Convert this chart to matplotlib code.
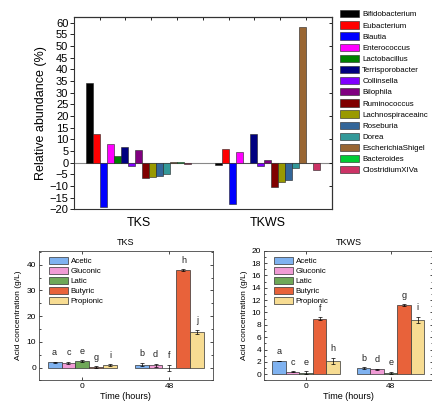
import numpy as np
import matplotlib
matplotlib.use("Agg")
import matplotlib.pyplot as plt
from matplotlib.ticker import MultipleLocator

plt.rcParams['font.family'] = ['Liberation Sans', 'DejaVu Sans']

# ---- top chart data: change in relative abundance (%) ----
groups = ['TKS', 'TKWS']
genera = ['Bifidobacterium', 'Eubacterium', 'Blautia', 'Enterococcus', 'Lactobacillus',
          'Terrisporobacter', 'Collinsella', 'Bilophila', 'Ruminococcus', 'Lachnospiraceainc',
          'Roseburia', 'Dorea', 'EscherichiaShigel', 'Bacteroides', 'ClostridiumXIVa']
genus_colors = ['#000000', '#ff0000', '#0000ff', '#ff00ff', '#008000',
                '#000080', '#8000ff', '#800080', '#800000', '#999900',
                '#336699', '#339999', '#996633', '#00cc33', '#cc3366']
tks_abund = [34, 12.3, -19, 8, 3, 6.7, -1.5, 5.2, -6.5, -6.2, -5.6, -5.0, 0.3, 0.3, -0.7]
tkws_abund = [-1.2, 6, -17.6, 4.5, 0, 12.4, -1.5, 1.3, -10.3, -8.2, -7.5, -2.4, 58, 0, -3]

# ---- bottom charts data: acid concentration (g/L) ----
times = ['0', '48']
acids = ['Acetic', 'Gluconic', 'Latic', 'Butyric', 'Propionic']
acid_colors = ['#7fb2f0', '#f09bd5', '#6fa858', '#e8623a', '#f7dc92']
tks_acid = {'0': [2.0, 1.9, 2.6, 0.2, 0.9], '48': [1.2, 0.9, 0.0, 38.0, 14.0]}
tks_err = {'0': [0.3, 0.4, 0.3, 0.3, 0.4], '48': [0.6, 0.5, 1.2, 0.3, 0.8]}
tks_letters = {'0': ['a', 'c', 'e', 'g', 'i'], '48': ['b', 'd', 'f', 'h', 'j']}
tkws_acid = {'0': [2.2, 0.4, 0.25, 9.0, 2.2], '48': [1.0, 0.8, 0.2, 11.2, 8.8]}
tkws_err = {'0': [0.0, 0.1, 0.2, 0.2, 0.5], '48': [0.1, 0.1, 0.2, 0.1, 0.5]}
tkws_letters = {'0': ['a', 'c', 'e', 'f', 'h'], '48': ['b', 'd', 'e', 'g', 'i']}

fig = plt.figure(figsize=(4.32, 4.03), dpi=100)

# ---------------- top chart ----------------
ax = fig.add_axes([0.171, 0.481, 0.597, 0.477])
n = len(genera)
w = 0.81 / n
x = np.arange(len(groups))
for i, g in enumerate(genera):
    vals = [tks_abund[i], tkws_abund[i]]
    ax.bar(x - 0.405 + w * (i + 0.5), vals, w, color=genus_colors[i],
           edgecolor='#222222', linewidth=0.4, label=g)
ax.axhline(0, color='#888888', linewidth=0.8, zorder=0)
ax.set_xlim(-0.5, 1.5)
ax.set_ylim(-20, 62.5)
ax.yaxis.set_major_locator(MultipleLocator(5))
ax.set_xticks(x)
ax.set_xticklabels(groups, fontsize=9)
ax.tick_params(axis='x', length=0, pad=6)
ax.tick_params(axis='y', labelsize=8, length=3, width=0.6, pad=1)
ax.set_ylabel('Relative abundance (%)', fontsize=9, labelpad=2)
for s in ax.spines.values():
    s.set_linewidth(0.8)
    s.set_color('#333333')
# origin-style inner ticks on top and right
ax_top = ax.secondary_xaxis('top')
ax_top.set_xticks(np.linspace(-0.5, 1.5, 11)[1:-1])
ax_top.tick_params(direction='in', length=2.5, width=0.6, labeltop=False)
ax_r = ax.secondary_yaxis('right')
ax_r.yaxis.set_major_locator(MultipleLocator(10))
ax_r.tick_params(direction='in', length=2.5, width=0.6, labelright=False)
leg = ax.legend(loc='upper left', bbox_to_anchor=(0.787, 0.975), bbox_transform=fig.transFigure,
                frameon=False, fontsize=5.7, handlelength=2.4, handleheight=1.05,
                labelspacing=0.35, handletextpad=0.4, borderaxespad=0, borderpad=0)


def acid_panel(rect, data, err, letters, ylim, major, minor, title):
    axb = fig.add_axes(rect)
    bw = 0.8 / len(acids)
    xt = np.arange(len(times))
    for j, a in enumerate(acids):
        vals = [data[t][j] for t in times]
        errs = [err[t][j] for t in times]
        pos = xt - 0.4 + bw * (j + 0.5)
        axb.bar(pos, vals, bw, yerr=errs, color=acid_colors[j], edgecolor='#333333',
                linewidth=0.5, label=a, error_kw=dict(elinewidth=0.5, capsize=1.5, capthick=0.5))
        span = ylim[1] - ylim[0]
        for k, t in enumerate(times):
            top = max(vals[k], 0) + errs[k]
            axb.text(pos[k], top + span * 0.035, letters[t][j], ha='center', va='bottom',
                     fontsize=6.5, color='#222222')
    axb.set_xlim(-0.5, 1.5)
    axb.set_ylim(*ylim)
    axb.set_xticks(xt)
    axb.set_xticklabels(times)
    axb.yaxis.set_major_locator(MultipleLocator(major))
    axb.yaxis.set_minor_locator(MultipleLocator(minor))
    axb.tick_params(axis='both', which='both', direction='in', top=True, right=True,
                    labelsize=6, width=0.5, pad=2)
    axb.tick_params(which='major', length=2.5)
    axb.tick_params(which='minor', length=1.5)
    axb.tick_params(axis='x', which='minor', top=False, bottom=False)
    for s in axb.spines.values():
        s.set_linewidth(0.6)
        s.set_color('#444444')
    axb.set_title(title, fontsize=6.5, pad=4)
    axb.set_xlabel('Time (hours)', fontsize=6.5, labelpad=1.5)
    axb.set_ylabel('Acid concentration (g/L)', fontsize=6, labelpad=3)
    axb.legend(loc='upper left', fontsize=5.7, frameon=False, handlelength=2.4,
               handleheight=1.0, labelspacing=0.22, handletextpad=0.4,
               borderaxespad=0.4, bbox_to_anchor=(0.02, 1.0))
    return axb


acid_panel([0.090, 0.056, 0.403, 0.322], tks_acid, tks_err, tks_letters,
           (-5, 45.5), 10, 5, 'TKS')
acid_panel([0.611, 0.056, 0.391, 0.322], tkws_acid, tkws_err, tkws_letters,
           (-1, 20), 2, 1, 'TKWS')

fig.savefig('out.png', dpi=100)
